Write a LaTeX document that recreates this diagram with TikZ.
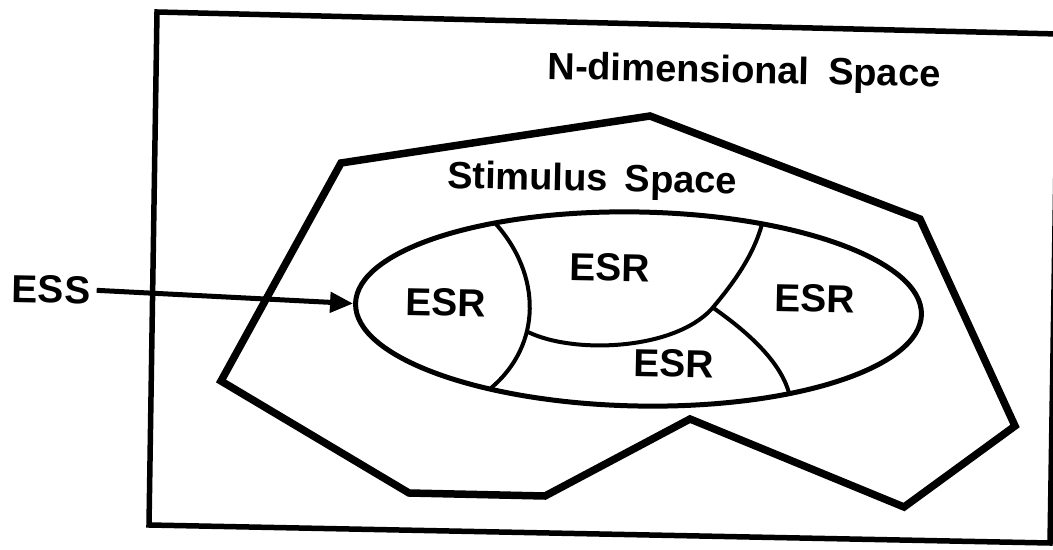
\documentclass[tikz,border=0pt]{standalone}
\usepackage{fontspec}
\setmainfont{Liberation Sans}
\usetikzlibrary{shapes.geometric,arrows.meta}
\begin{document}
\begin{tikzpicture}[x=0.5pt,y=-0.5pt,
  lbl/.style={font=\fontsize{19}{22}\selectfont\bfseries, inner sep=0pt, anchor=base, rotate=-1.1},
  biglbl/.style={lbl, font=\fontsize{19.5}{22}\selectfont\bfseries},
  frame/.style={line width=2.75pt, line join=miter},
  stim/.style={line width=3.75pt, line join=miter},
  region/.style={line width=2pt},
  esslink/.style={line width=2.5pt, -{Triangle[length=11.5pt,width=10pt]}},
]
\useasboundingbox (0,0) rectangle (1053,550);
\clip (0,0) rectangle (1053,550);
% outer N-dimensional space frame
\draw[frame] (157,12) -- (1058,34) -- (1050,543) -- (149,525) -- cycle;
% stimulus space polygon
\draw[stim] (341,163) -- (650,116) -- (920,219) -- (1015,426) -- (904,507)
  -- (690,419) -- (545,496) -- (409,493) -- (221,381) -- cycle;
% ESS ellipse
\node[draw, ellipse, line width=2.5pt, minimum width=283pt, minimum height=97pt,
  inner sep=0pt, rotate=-1.1] (ssp) at (638.5,309) {};
% ESR boundaries
\draw[region] (495,223) .. controls (542,275) and (542,345) .. (491,388);
\draw[region] (528,332) .. controls (575,355) and (680,350) .. (715,305)
  .. controls (740,275) and (755,250) .. (762,224);
\draw[region] (712,307) .. controls (745,330) and (780,360) .. (789,393);
% labels
\node[lbl] (ndim) at (744,83) {N-dimensional\hspace{0.5em}Space};
\node[lbl] (stimlbl) at (592,191) {Stimulus\hspace{0.45em}Space};
\node[biglbl] (esr1) at (446,316) {ESR};
\node[biglbl] (esr2) at (610,281) {ESR};
\node[biglbl] (esr3) at (814.5,312) {ESR};
\node[biglbl] (esr4) at (674,377) {ESR};
\node[biglbl] (ess) at (51,303) {ESS};
\draw[esslink] ([xshift=3pt]ess.east) -- (ssp.west);
\end{tikzpicture}
\end{document}
